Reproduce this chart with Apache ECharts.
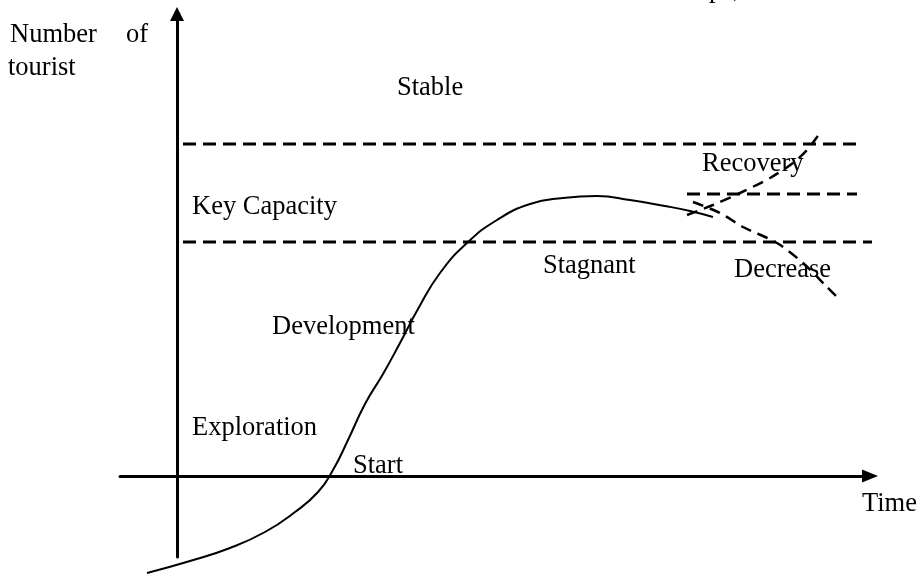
<!DOCTYPE html>
<html>
<head>
<meta charset="utf-8">
<script src="https://cdn.jsdelivr.net/npm/echarts@6/dist/echarts.min.js"></script>
<style>
  html, body { margin: 0; padding: 0; background: #fff; }
  #chart { width: 916px; height: 575px; }
</style>
</head>
<body>
<div id="chart"></div>
<script>
// life cycle curve: [time, number of tourists]
const lifeCycle = [
  [-30, -97], [13, -85], [53, -72], [88, -56], [118, -36], [141, -16], [156, 6],
  [171, 36], [188, 72], [206, 102], [223, 133], [241, 167], [263, 203], [290, 233],
  [320, 256], [353, 272], [386, 278], [420, 280], [453, 276], [488, 270], [513, 265], [536, 259]
]
const recovery = [[510, 261], [536, 271], [563, 283], [593, 298], [616, 313], [630, 326], [643, 343]]
const decrease = [[516, 274], [543, 263], [566, 249], [600, 233], [626, 213], [650, 189], [663, 176]]

// horizontal reference levels
const stableLevel = [[6, 332], [683, 332]]
const recoveryLevel = [[510, 282], [680, 282]]
const capacityLevel = [[6, 234], [696, 234]]

const FONT = '26.5px "Liberation Serif", "Times New Roman", serif'

function label(text, x, baseline) {
  return {
    type: 'text',
    x: x,
    y: baseline - 6,
    style: { text: text, font: FONT, fill: '#000', verticalAlign: 'middle' },
    z: 100
  }
}

const chart = echarts.init(document.getElementById('chart'))

const axisCommon = {
  type: 'value',
  splitLine: { show: false },
  axisTick: { show: false },
  axisLabel: { show: false }
}

chart.setOption({
  animation: false,
  backgroundColor: '#fff',
  grid: { left: 120, right: 46, top: 14, bottom: 18 },
  xAxis: Object.assign({}, axisCommon, {
    min: -57,
    max: 693,
    axisLine: {
      show: true,
      onZero: true,
      symbol: ['none', 'triangle'],
      symbolSize: [13, 16],
      lineStyle: { color: '#000', width: 3 }
    }
  }),
  yAxis: Object.assign({}, axisCommon, {
    min: -81,
    max: 462,
    axisLine: {
      show: true,
      onZero: true,
      symbol: ['none', 'triangle'],
      symbolSize: [14, 14],
      lineStyle: { color: '#000', width: 3 }
    }
  }),
  graphic: [
    label('Number', 10, 41),
    label('of', 126, 41),
    label('tourist', 8, 74),
    label('Stable', 397, 94),
    label('Key Capacity', 192, 213),
    label('Recovery', 702, 170),
    label('Stagnant', 543, 272),
    label('Decrease', 734, 276),
    label('Development', 272, 333),
    label('Exploration', 192, 434),
    label('Start', 353, 472),
    label('Time', 862, 510),
    label('p', 709, -4),
    label(',', 733, -4)
  ],
  series: [
    {
      type: 'line', data: stableLevel, showSymbol: false, clip: false,
      lineStyle: { color: '#000', width: 3, type: [13, 7] }
    },
    {
      type: 'line', data: recoveryLevel, showSymbol: false, clip: false,
      lineStyle: { color: '#000', width: 3, type: [13, 7] }
    },
    {
      type: 'line', data: capacityLevel, showSymbol: false, clip: false,
      lineStyle: { color: '#000', width: 3, type: [13, 7] }
    },
    {
      type: 'line', data: recovery, showSymbol: false, clip: false, smooth: 0.3,
      lineStyle: { color: '#000', width: 2.5, type: [11, 7] }
    },
    {
      type: 'line', data: decrease, showSymbol: false, clip: false, smooth: 0.3,
      lineStyle: { color: '#000', width: 2.5, type: [11, 7] }
    },
    {
      type: 'line', data: lifeCycle, showSymbol: false, clip: false, smooth: 0.5,
      lineStyle: { color: '#000', width: 2 }
    }
  ]
})
</script>
</body>
</html>
